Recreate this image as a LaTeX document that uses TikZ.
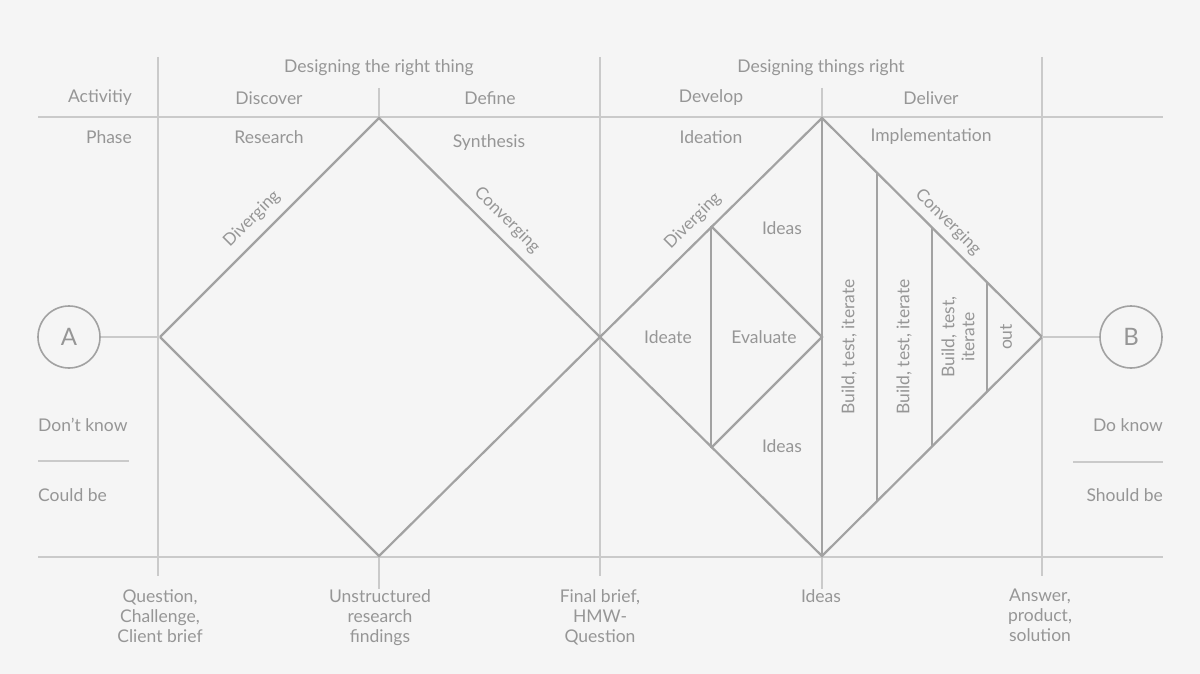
\documentclass[tikz,border=0pt]{standalone}
\usepackage{fontspec}
\setmainfont{Lato}
\usetikzlibrary{positioning,calc}
\definecolor{dgBack}{HTML}{F5F5F5}
\definecolor{dgGrid}{HTML}{CACACA}
\definecolor{dgShape}{HTML}{A2A2A2}
\definecolor{dgText}{HTML}{969696}

\begin{document}
\begin{tikzpicture}[x=1pt, y=-1pt,
        grid/.style={draw=dgGrid, line width=1.3pt},
        dmd/.style={draw=dgShape, line width=2.2pt, line join=miter},
        lbl/.style={text=dgText, font=\fontsize{17.5}{20}\selectfont, align=center, inner sep=0pt},
        slant/.style={lbl, font=\fontsize{17}{20}\selectfont},
        endpt/.style={circle, draw=dgShape, line width=1.6pt, minimum size=62pt, inner sep=0pt, text=dgText, font=\fontsize{24}{24}\selectfont}
    ]
        \fill[dgBack] (0,0) rectangle (1200,674);
        \useasboundingbox (0,0) rectangle (1200,674);

        % --- RASTER ---
        \draw[grid] (38,117) -- (1163,117);
        \draw[grid] (38,557) -- (1163,557);
        \draw[grid] (158,57) -- (158,576);
        \draw[grid] (600,57) -- (600,576);
        \draw[grid] (1042,57) -- (1042,576);
        \draw[grid] (379,88) -- (379,117);
        \draw[grid] (822,88) -- (822,117);
        \draw[grid] (379,557) -- (379,589);
        \draw[grid] (822,557) -- (822,589);
        \draw[grid] (38,461) -- (129,461);
        \draw[grid] (1073,462) -- (1163,462);

        % Kopfzeilen
        \node[lbl] (rightthing) at (379,68) {Designing the right thing};
        \node[lbl] (thingsright) at (821,68) {Designing things right};
        \node[lbl, anchor=east] (activity) at (132,98) {Activitiy};
        \node[lbl, anchor=east] (phase) at (132,137) {Phase};
        \node[lbl] (discover) at (269,98) {Discover};
        \node[lbl] (define) at (490,98) {Define};
        \node[lbl] (develop) at (711,98) {Develop};
        \node[lbl] (deliver) at (931,98) {Deliver};
        \node[lbl] (research) at (269,137) {Research};
        \node[lbl] (synthesis) at (489,143) {Synthesis};
        \node[lbl] (ideation) at (711,137) {Ideation};
        \node[lbl] (implement) at (931,137) {Implementation};

        % --- DOUBLE DIAMOND ---
        \coordinate (d1w) at (160,337);
        \coordinate (d1n) at (379,118);
        \coordinate (d1e) at (600,337);
        \coordinate (d1s) at (379,556);
        \coordinate (d2n) at (822,118);
        \coordinate (d2e) at (1042,337);
        \coordinate (d2s) at (822,556);
        \draw[dmd] (d1w) -- (d1n) -- (d1e) -- (d1s) -- cycle;
        \draw[dmd] (d1e) -- (d2n) -- (d2e) -- (d2s) -- cycle;

        % Develop: Ideate / Evaluate
        \coordinate (evtop) at (711,226);
        \coordinate (evbot) at (711,448);
        \coordinate (evtip) at (822,337);
        \draw[dmd] (evtop) -- (evbot);
        \draw[dmd] (evtop) -- (evtip) -- (evbot);
        \draw[dmd] (d2n) -- (d2s);

        % Deliver: Iterationen
        \foreach \px in {877,932,987} {
            \draw[dmd] (\px,{118+\px-822}) -- (\px,{556-\px+822});
        }

        \node[slant, rotate=45] (div1) at (252,219) {Diverging};
        \node[slant, rotate=-45] (conv1) at (507,220) {Converging};
        \node[slant, rotate=45] (div2) at (693,221) {Diverging};
        \node[slant, rotate=-45] (conv2) at (948,222) {Converging};
        \node[lbl] (ideasup) at (782,228) {Ideas};
        \node[lbl] (ideasdown) at (782,446) {Ideas};
        \node[lbl] (ideate) at (668,337) {Ideate};
        \node[lbl] (evaluate) at (764,337) {Evaluate};
        \node[lbl, rotate=90] (bti1) at (849,347) {Build, test, iterate};
        \node[lbl, rotate=90] (bti2) at (904,347) {Build, test, iterate};
        \node[lbl, rotate=90] (bti3) at (958,337) {Build, test,\\iterate};
        \node[lbl, rotate=90] (out) at (1006,337) {out};

        % --- A und B ---
        \node[endpt] (pointA) at (69,337) {A};
        \node[endpt] (pointB) at (1131,337) {B};
        \draw[grid] (pointA) -- (d1w);
        \draw[grid] (pointB) -- (d2e);

        \node[lbl, anchor=west] (dontknow) at (38,425) {Don’t know};
        \node[lbl, anchor=west] (couldbe) at (38,495) {Could be};
        \node[lbl, anchor=east] (doknow) at (1163,425) {Do know};
        \node[lbl, anchor=east] (shouldbe) at (1163,495) {Should be};

        % --- ERGEBNISSE ---
        \node[lbl, anchor=north] (brief) at (160,589) {Question,\\Challenge,\\Client brief};
        \node[lbl, anchor=north] (findings) at (380,589) {Unstructured\\research\\findings};
        \node[lbl, anchor=north] (hmw) at (600,589) {Final brief,\\HMW-\\Question};
        \node[lbl, anchor=north] (ideasout) at (821,589) {Ideas};
        \node[lbl, anchor=north] (answer) at (1040,589) {Answer,\\product,\\solution};
    \end{tikzpicture}
\end{document}
